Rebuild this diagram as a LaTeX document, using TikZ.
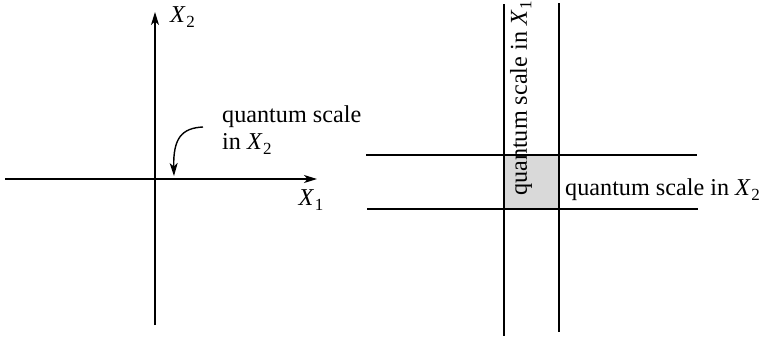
\documentclass[tikz,border=0pt]{standalone}
\usepackage{fontspec}
\setmainfont{Liberation Serif}
\usetikzlibrary{arrows.meta}
\newcommand\Xsub[1]{\textit{X}\kern0.5pt\raisebox{-4.5pt}{\fontsize{17}{17}\selectfont #1}}
\begin{document}
\begin{tikzpicture}[x=1pt,y=-1pt,
  ln/.style={line width=1.4pt},
  arr/.style={ln,-{Stealth[length=13pt,width=8pt,inset=3.5pt]}},
  lbl/.style={font=\fontsize{24.2}{27}\selectfont, inner sep=0pt}]
\useasboundingbox (0,0) rectangle (765,338);
% left axes
\coordinate (vb) at (155,325);
\coordinate (vt) at (155,12);
\coordinate (hl) at (5,179);
\coordinate (hr) at (317,179);
\draw[arr] (vb) -- (vt);
\draw[arr] (hl) -- (hr);
\node[lbl, anchor=west] (x2) at (170,17) {\Xsub{2}};
\node[lbl] (x1) at (311,200) {\Xsub{1}};
\node[lbl, anchor=north west, align=left] (qs) at (222,106) {quantum scale\\in \Xsub{2}};
\coordinate (cs) at (203,127);
\coordinate (ce) at (174,176);
\draw[arr] (cs) .. controls (182,128) and (173,138) .. (ce);
% right grid
\fill[gray!30] (504,155) rectangle (559,209);
\coordinate (a1) at (504,4);  \coordinate (a2) at (504,336);
\coordinate (b1) at (559,3);  \coordinate (b2) at (559,332);
\coordinate (c1) at (366,155); \coordinate (c2) at (697,155);
\coordinate (d1) at (367,209); \coordinate (d2) at (698,209);
\draw[ln] (a1) -- (a2);
\draw[ln] (b1) -- (b2);
\draw[ln] (c1) -- (c2);
\draw[ln] (d1) -- (d2);
\node[lbl, rotate=90, anchor=west] (q1) at (521,196) {quantum scale in \Xsub{1}};
\node[lbl, anchor=west] (q2) at (565,190) {quantum scale in \Xsub{2}};
\end{tikzpicture}
\end{document}
